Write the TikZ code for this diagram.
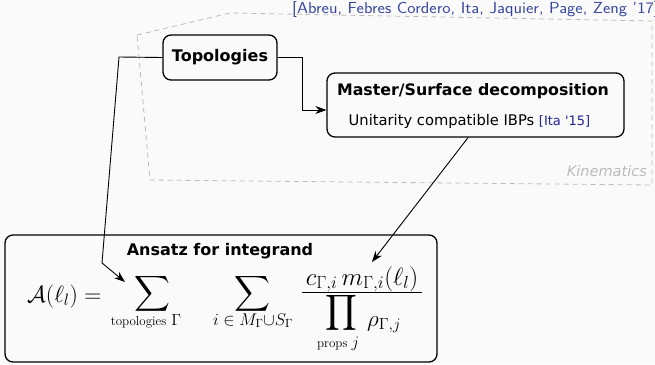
\RequirePackage{fix-cm}
\documentclass[tikz,border=0pt]{standalone}
\usepackage{amsmath}
\usepackage{graphicx}
\usepackage[no-math]{fontspec}
\newfontfamily\dvsans[Ligatures=TeXOff]{DejaVu Sans}
\usetikzlibrary{arrows.meta,calc}
\definecolor{bgc}{HTML}{FAFAFA}
\definecolor{citeblue}{RGB}{55,70,160}
\definecolor{itablue}{RGB}{35,35,150}
\definecolor{kingray}{HTML}{BBBBBB}
\newcommand{\smalltxt}[1]{{\fontsize{13}{15}\selectfont #1}}
\begin{document}
\begin{tikzpicture}[x=1pt,y=-1pt,
  box/.style={draw, line width=1.3pt, rounded corners=8pt, inner sep=0},
  conn/.style={line width=0.9pt, -{Stealth[length=11pt,width=8pt]}},
  kin/.style={draw=kingray, line width=0.8pt, dash pattern=on 5pt off 4pt},
  mth/.style={inner sep=0, font=\fontsize{23}{27}\selectfont},
  lim/.style={inner sep=0, anchor=base, font=\fontsize{16}{19}\selectfont},
  ttl/.style={anchor=base, inner sep=0, font=\dvsans\bfseries\fontsize{15.8}{19}\selectfont}
]
\fill[bgc] (0,0) rectangle (655,364);
\useasboundingbox (0,0) rectangle (655,364);

% kinematics region
\draw[kin] (137,35) -- (230,13) -- (652,21) -- (652,185) -- (150,180) -- cycle;
\node[anchor=base west, inner sep=0, text=citeblue, font=\sffamily\fontsize{16}{19}\selectfont] (cite) at (292,13) {\scalebox{1.1}[1]{[Abreu, Febres Cordero, Ita, Jaquier, Page, Zeng '17]}};
\node[anchor=base east, inner sep=0, text=kingray, font=\dvsans\itshape\fontsize{14.5}{17}\selectfont] (kinlabel) at (647,176) {Kinematics};

% boxes
\node[box, minimum width=114pt, minimum height=45pt, font=\dvsans\bfseries\fontsize{16}{19}\selectfont] (topo) at (220,57.5) {Topologies};

\node[box, minimum width=297pt, minimum height=64pt] (master) at (475.5,105) {};
\node[ttl] (mtitle) at (473,95) {Master/Surface decomposition};
\node[anchor=base, inner sep=0, font=\dvsans\fontsize{14.7}{17}\selectfont] (msub) at (469.5,125) {Unitarity compatible IBPs {\color{itablue}\fontsize{13}{15}\selectfont[Ita '15]}};

\node[box, minimum width=432pt, minimum height=127pt] (ansatz) at (221,298.5) {};
\node[ttl, font=\dvsans\bfseries\fontsize{16}{19}\selectfont] (atitle) at (220,255) {Ansatz for integrand};

% formula
\node[mth, anchor=base west, font=\fontsize{23.5}{28}\selectfont] (eqA) at (27,302) {$\mathcal{A}(\ell_l) =$};
\node[mth] (sum1) at (152,293.5) {$\displaystyle\sum$};
\node[lim] (sub1) at (146,325) {\smalltxt{topologies}\hspace{5pt}$\Gamma$};
\node[mth] (sum2) at (252,293.5) {$\displaystyle\sum$};
\node[lim, font=\fontsize{17}{20}\selectfont] (sub2) at (253,325) {$i\in M_\Gamma{\cup}S_\Gamma$};
\node[mth, anchor=base, font=\fontsize{25}{30}\selectfont] (numer) at (362,285) {$c_{\Gamma,i}\, m_{\Gamma,i}(\ell_l)$};
\draw[line width=0.9pt] (302,292.5) -- (422,292.5);
\node[mth] (prodop) at (341.5,312.5) {$\displaystyle\prod$};
\node[mth, anchor=base west] (rho) at (367,326) {$\rho_{\Gamma,j}$};
\node[lim] (sub3) at (338,347) {\smalltxt{props}\hspace{4pt}$j$};

% connectors
\coordinate (tr) at (302,57.5);
\draw[conn] (topo.east) -- (tr) |- ($(master.west)+(0,5)$);
\coordinate (tl1) at (119,57);
\coordinate (tl2) at (102,263);
\coordinate (tip1) at (125,282);
\draw[conn] (topo.west) -- (tl1) -- (tl2) -- (tip1);
\coordinate (tip3) at (372,262);
\draw[conn] ($(master.south)+(-7.5,0)$) -- (tip3);
\end{tikzpicture}
\end{document}
